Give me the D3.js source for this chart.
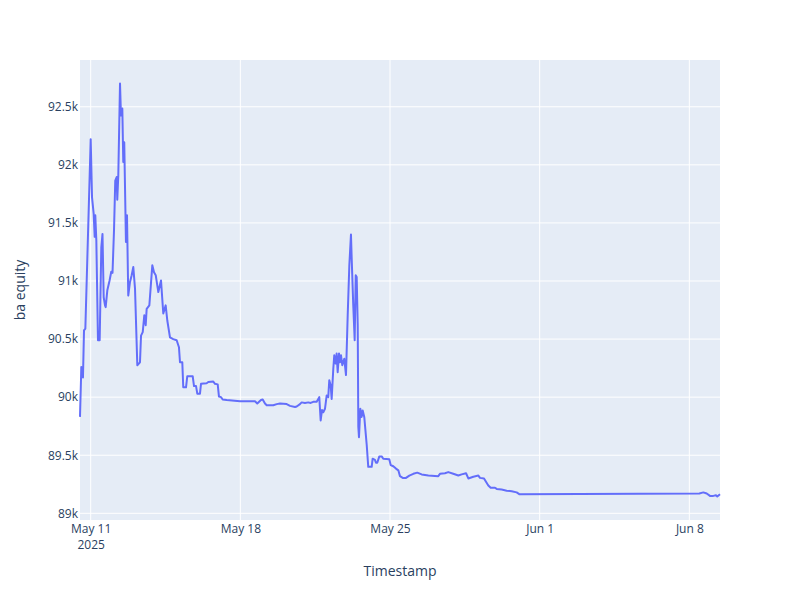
<!DOCTYPE html>
<html>
<head>
<meta charset="utf-8">
<script src="https://cdn.jsdelivr.net/npm/d3@7"></script>
<style>
  body { margin: 0; background: #fff; }
  text { font-family: "Open Sans", "Noto Sans", sans-serif; }
</style>
</head>
<body>
<div id="chart"></div>
<script>
// data
var timestamps = [
  "2025-05-10 12:00", "2025-05-10 13:30", "2025-05-10 15:20", "2025-05-10 16:30", "2025-05-10 18:00",
  "2025-05-11 00:00", "2025-05-11 01:30", "2025-05-11 03:20", "2025-05-11 04:30", "2025-05-11 05:10",
  "2025-05-11 06:20", "2025-05-11 08:10", "2025-05-11 10:05", "2025-05-11 11:55", "2025-05-11 13:15",
  "2025-05-11 14:35", "2025-05-11 16:05", "2025-05-11 16:50", "2025-05-11 18:40", "2025-05-11 21:05",
  "2025-05-11 23:05", "2025-05-12 00:30", "2025-05-12 02:10", "2025-05-12 03:35", "2025-05-12 05:10",
  "2025-05-12 05:50", "2025-05-12 07:00", "2025-05-12 08:55", "2025-05-12 10:00", "2025-05-12 11:30",
  "2025-05-12 12:35", "2025-05-12 13:40", "2025-05-12 15:35", "2025-05-12 16:45", "2025-05-12 18:10",
  "2025-05-12 20:05", "2025-05-12 22:00", "2025-05-12 23:50", "2025-05-13 01:45", "2025-05-13 04:20",
  "2025-05-13 07:20", "2025-05-13 08:30", "2025-05-13 10:25", "2025-05-13 12:10", "2025-05-13 13:45",
  "2025-05-13 14:50", "2025-05-13 17:50", "2025-05-13 21:10", "2025-05-13 23:05", "2025-05-14 01:00",
  "2025-05-14 03:55", "2025-05-14 06:55", "2025-05-14 09:30", "2025-05-14 12:10", "2025-05-14 14:00",
  "2025-05-14 17:00", "2025-05-14 20:40", "2025-05-15 00:30", "2025-05-15 03:05", "2025-05-15 04:15",
  "2025-05-15 06:50", "2025-05-15 07:55", "2025-05-15 11:00", "2025-05-15 12:25", "2025-05-15 18:30",
  "2025-05-15 20:00", "2025-05-15 22:15", "2025-05-15 23:40", "2025-05-16 02:40", "2025-05-16 03:50",
  "2025-05-16 10:10", "2025-05-16 12:00", "2025-05-16 17:35", "2025-05-16 19:30", "2025-05-16 22:35",
  "2025-05-17 00:00", "2025-05-17 02:15", "2025-05-17 04:10", "2025-05-17 08:40", "2025-05-17 23:35",
  "2025-05-18 16:25", "2025-05-18 19:00", "2025-05-18 23:10", "2025-05-19 01:05", "2025-05-19 03:40",
  "2025-05-19 05:35", "2025-05-19 13:00", "2025-05-19 16:50", "2025-05-19 20:30", "2025-05-20 04:00",
  "2025-05-20 07:45", "2025-05-20 13:20", "2025-05-20 15:15", "2025-05-20 18:55", "2025-05-20 20:50",
  "2025-05-21 00:30", "2025-05-21 04:15", "2025-05-21 06:55", "2025-05-21 09:50", "2025-05-21 13:40",
  "2025-05-21 16:35", "2025-05-21 18:10", "2025-05-21 19:40", "2025-05-21 21:05", "2025-05-21 23:00",
  "2025-05-22 00:55", "2025-05-22 02:40", "2025-05-22 03:50", "2025-05-22 05:25", "2025-05-22 06:30",
  "2025-05-22 08:20", "2025-05-22 09:25", "2025-05-22 11:00", "2025-05-22 12:05", "2025-05-22 13:15",
  "2025-05-22 14:45", "2025-05-22 15:50", "2025-05-22 17:00", "2025-05-22 18:25", "2025-05-22 20:40",
  "2025-05-22 22:35", "2025-05-23 00:30", "2025-05-23 02:20", "2025-05-23 04:10", "2025-05-23 05:00",
  "2025-05-23 06:45", "2025-05-23 08:20", "2025-05-23 09:30", "2025-05-23 10:35", "2025-05-23 11:45",
  "2025-05-23 12:25", "2025-05-23 13:10", "2025-05-23 14:40", "2025-05-23 16:10", "2025-05-23 17:20",
  "2025-05-23 19:05", "2025-05-23 21:50", "2025-05-23 23:35", "2025-05-24 03:25", "2025-05-24 04:30",
  "2025-05-24 07:05", "2025-05-24 08:15", "2025-05-24 09:40", "2025-05-24 12:00", "2025-05-24 14:40",
  "2025-05-24 16:25", "2025-05-24 23:10", "2025-05-25 00:45", "2025-05-25 03:40", "2025-05-25 06:40",
  "2025-05-25 09:20", "2025-05-25 11:10", "2025-05-25 14:15", "2025-05-25 17:55", "2025-05-25 21:40",
  "2025-05-26 02:10", "2025-05-26 06:35", "2025-05-26 11:30", "2025-05-26 19:00", "2025-05-27 06:10",
  "2025-05-27 08:05", "2025-05-27 13:40", "2025-05-27 17:25", "2025-05-27 23:00", "2025-05-28 04:40",
  "2025-05-28 08:25", "2025-05-28 13:20", "2025-05-28 15:55", "2025-05-28 21:30", "2025-05-29 03:10",
  "2025-05-29 05:00", "2025-05-29 09:30", "2025-05-29 14:20", "2025-05-29 17:00", "2025-05-29 21:50",
  "2025-05-29 23:45", "2025-05-30 05:20", "2025-05-30 11:00", "2025-05-30 16:35", "2025-05-30 22:10",
  "2025-05-31 01:05", "2025-06-08 11:10", "2025-06-08 15:40", "2025-06-08 19:30", "2025-06-08 23:10",
  "2025-06-09 02:55", "2025-06-09 05:55", "2025-06-09 07:20", "2025-06-09 10:25"
];

var equity = [
  89830, 90260, 90170, 90575, 90590,
  92220, 91720, 91580, 91380, 91565,
  91350, 90490, 90490, 91290, 91405,
  90860, 90790, 90775, 90920, 91000,
  91080, 91070, 91435, 91865, 91895,
  91700, 91910, 92700, 92425, 92485,
  92025, 92195, 91335, 91565, 90875,
  90990, 91050, 91120, 90935, 90275,
  90300, 90530, 90560, 90705, 90620,
  90760, 90790, 91135, 91075, 91050,
  90905, 91005, 90720, 90790, 90660,
  90515, 90500, 90490, 90430, 90300,
  90300, 90085, 90085, 90180, 90180,
  90095, 90095, 90030, 90030, 90115,
  90120, 90130, 90135, 90115, 90110,
  90005, 90000, 89980, 89975, 89965,
  89965, 89945, 89975, 89980, 89945,
  89930, 89930, 89940, 89945, 89940,
  89925, 89915, 89920, 89940, 89955,
  89950, 89955, 89950, 89960, 89960,
  90000, 89800, 89890, 89870, 89900,
  90015, 90000, 90145, 90100, 89985,
  90245, 90360, 90290, 90375, 90215,
  90375, 90300, 90360, 90275, 90330,
  90190, 90705, 91135, 91400, 91190,
  90790, 90490, 91050, 91035, 90620,
  89745, 89655, 89900, 89830, 89885,
  89830, 89590, 89400, 89400, 89470,
  89460, 89435, 89435, 89490, 89490,
  89470, 89465, 89415, 89405, 89385,
  89370, 89320, 89305, 89305, 89325,
  89340, 89350, 89335, 89325, 89320,
  89340, 89345, 89355, 89340, 89325,
  89335, 89345, 89300, 89315, 89325,
  89305, 89300, 89240, 89220, 89220,
  89210, 89205, 89195, 89190, 89180,
  89165, 89170, 89180, 89170, 89150,
  89150, 89155, 89145, 89165
];

var yTicks = [89000, 89500, 90000, 90500, 91000, 91500, 92000, 92500];

//general setup
var width = 800,
    height = 600,
    margin = {top: 60, right: 80, bottom: 80, left: 80},
    plotW = width - margin.left - margin.right,
    plotH = height - margin.top - margin.bottom;

var parseTime = d3.timeParse("%Y-%m-%d %H:%M");
var data = timestamps.map(function (t, i) {
    return {t: parseTime(t), v: equity[i]};
});

var xScale = d3.scaleTime()
    .domain(d3.extent(data, function (d) { return d.t; }))
    .range([0, plotW]);

// pad the value range a little like plotly autorange does
var vMin = d3.min(equity), vMax = d3.max(equity), pad = (vMax - vMin) * 0.057;
var yScale = d3.scaleLinear()
    .domain([vMin - pad, vMax + pad])
    .range([plotH, 0]);

var svg = d3.select("#chart").append("svg")
    .attr("width", width)
    .attr("height", height);

var g = svg.append("g")
    .attr("transform", "translate(" + margin.left + "," + margin.top + ")");

g.append("rect")
    .attr("width", plotW)
    .attr("height", plotH)
    .attr("fill", "#E5ECF6");

//grid lines
var xTicks = xScale.ticks(d3.timeWeek.every(1));

g.append("g").selectAll("line")
    .data(xTicks)
    .enter().append("line")
    .attr("x1", function (d) { return xScale(d); })
    .attr("x2", function (d) { return xScale(d); })
    .attr("y1", 0)
    .attr("y2", plotH)
    .attr("stroke", "#fff")
    .attr("stroke-width", 1);

g.append("g").selectAll("line")
    .data(yTicks)
    .enter().append("line")
    .attr("x1", 0)
    .attr("x2", plotW)
    .attr("y1", function (d) { return yScale(d); })
    .attr("y2", function (d) { return yScale(d); })
    .attr("stroke", "#fff")
    .attr("stroke-width", 1);

//x axis
var fmtDay = d3.timeFormat("%b %-d");
var xAxis = g.append("g")
    .attr("transform", "translate(0," + plotH + ")")
    .call(d3.axisBottom(xScale).tickValues(xTicks).tickSize(0).tickPadding(4)
        .tickFormat(function (d) { return fmtDay(d); }));
xAxis.select(".domain").remove();
xAxis.selectAll("text")
    .attr("fill", "#2a3f5f")
    .style("font-size", "12px");
xAxis.selectAll(".tick").filter(function (d, i) { return i === 0; })
    .select("text")
    .append("tspan")
    .attr("x", 0)
    .attr("dy", "1.4em")
    .text(d3.timeFormat("%Y")(xTicks[0]));

//y axis
var yAxis = g.append("g")
    .call(d3.axisLeft(yScale).tickValues(yTicks).tickSize(0).tickPadding(2)
        .tickFormat(function (d) { return (d / 1000) + "k"; }));
yAxis.select(".domain").remove();
yAxis.selectAll("text")
    .attr("fill", "#2a3f5f")
    .style("font-size", "12px");

//axis titles
svg.append("text")
    .attr("x", margin.left + plotW / 2)
    .attr("y", 576)
    .attr("text-anchor", "middle")
    .attr("fill", "#2a3f5f")
    .style("font-size", "14px")
    .text("Timestamp");

svg.append("text")
    .attr("transform", "translate(25," + (margin.top + plotH / 2) + ") rotate(-90)")
    .attr("text-anchor", "middle")
    .attr("fill", "#2a3f5f")
    .style("font-size", "14px")
    .text("ba equity");

//the line
var line = d3.line()
    .x(function (d) { return xScale(d.t); })
    .y(function (d) { return yScale(d.v); });

g.append("path")
    .attr("d", line(data))
    .attr("stroke", "#636efa")
    .attr("stroke-width", 2)
    .attr("stroke-linejoin", "round")
    .attr("fill", "none");
</script>
</body>
</html>
